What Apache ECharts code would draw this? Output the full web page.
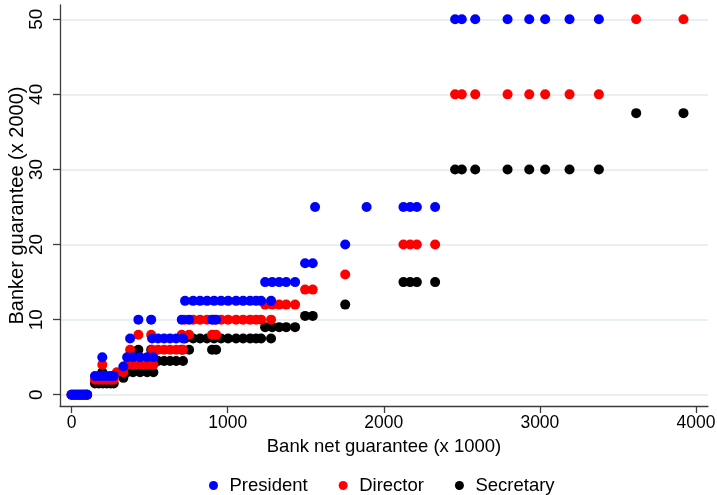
<!DOCTYPE html>
<html>
<head>
<meta charset="utf-8">
<script src="https://cdn.jsdelivr.net/npm/echarts@6/dist/echarts.min.js"></script>
<style>
  html, body { margin: 0; padding: 0; background: #fff; }
  #chart { width: 717px; height: 495px; }
</style>
</head>
<body>
<div id="chart"></div>
<script>
// Guarantee amounts by bank net guarantee, one array of [x, y] pairs per officer role
const presidentPts = [
  [0, 0], [15, 0], [30, 0], [45, 0], [60, 0], [75, 0], [90, 0], [100, 0],
  [150, 2.5], [175, 2.5], [200, 2.5], [225, 2.5], [250, 2.5], [270, 2.5],
  [197, 5], [356, 5], [394, 5], [439, 5], [484, 5], [524, 5],
  [332, 3.75],
  [375, 7.5], [516, 7.5], [554, 7.5], [593, 7.5], [631, 7.5], [670, 7.5], [714, 7.5],
  [428, 10], [510, 10], [706, 10], [753, 10], [900, 10], [926, 10],
  [727, 12.5], [779, 12.5], [823, 12.5], [868, 12.5], [913, 12.5], [958, 12.5], [1003, 12.5],
  [1054, 12.5], [1099, 12.5], [1144, 12.5], [1182, 12.5], [1214, 12.5], [1278, 12.5],
  [1240, 15], [1285, 15], [1330, 15], [1375, 15], [1432, 15],
  [1496, 17.5], [1545, 17.5],
  [1560, 25],
  [1753, 20],
  [1890, 25],
  [2126, 25], [2169, 25], [2212, 25], [2329, 25],
  [2457, 50], [2500, 50], [2586, 50], [2793, 50], [2932, 50], [3034, 50], [3190, 50], [3378, 50]
];

const directorPts = [
  [0, 0], [15, 0], [30, 0], [45, 0], [60, 0], [75, 0], [90, 0], [100, 0],
  [150, 2], [175, 2], [200, 2], [225, 2], [250, 2], [270, 2],
  [197, 4], [356, 4], [394, 4], [439, 4], [484, 4], [524, 4],
  [290, 3], [332, 3],
  [375, 6], [516, 6], [554, 6], [593, 6], [631, 6], [670, 6], [714, 6],
  [428, 8], [510, 8], [706, 8], [753, 8], [900, 8], [926, 8],
  [727, 10], [779, 10], [823, 10], [868, 10], [913, 10], [958, 10], [1003, 10],
  [1054, 10], [1099, 10], [1144, 10], [1182, 10], [1214, 10], [1278, 10],
  [1240, 12], [1285, 12], [1330, 12], [1375, 12], [1432, 12],
  [1496, 14], [1545, 14],
  [1753, 16],
  [2126, 20], [2169, 20], [2212, 20], [2329, 20],
  [2457, 40], [2500, 40], [2586, 40], [2793, 40], [2932, 40], [3034, 40], [3190, 40], [3378, 40],
  [3617, 50], [3920, 50]
];

const secretaryPts = [
  [0, 0], [15, 0], [30, 0], [45, 0], [60, 0], [75, 0], [90, 0], [100, 0],
  [150, 1.5], [175, 1.5], [200, 1.5], [225, 1.5], [250, 1.5], [270, 1.5],
  [197, 3], [356, 3], [394, 3], [439, 3], [484, 3], [524, 3],
  [332, 2.25],
  [375, 4.5], [516, 4.5], [554, 4.5], [593, 4.5], [631, 4.5], [670, 4.5], [714, 4.5],
  [428, 6], [510, 6], [706, 6], [753, 6], [900, 6], [926, 6],
  [727, 7.5], [779, 7.5], [823, 7.5], [868, 7.5], [913, 7.5], [958, 7.5], [1003, 7.5],
  [1054, 7.5], [1099, 7.5], [1144, 7.5], [1182, 7.5], [1214, 7.5], [1278, 7.5],
  [1240, 9], [1285, 9], [1330, 9], [1375, 9], [1432, 9],
  [1496, 10.5], [1545, 10.5],
  [1753, 12],
  [2126, 15], [2169, 15], [2212, 15], [2329, 15],
  [2457, 30], [2500, 30], [2586, 30], [2793, 30], [2932, 30], [3034, 30], [3190, 30], [3378, 30],
  [3617, 37.5], [3920, 37.5]
];

const xTicks = [0, 1000, 2000, 3000, 4000];
const yTicks = [0, 10, 20, 30, 40, 50];
const legendNames = ['President', 'Director', 'Secretary'];

const FONT = "'Liberation Sans', Arial, Helvetica, sans-serif";
const AXIS_COLOR = '#3c3c3c';

const chart = echarts.init(document.getElementById('chart'), null, { renderer: 'canvas' });

chart.setOption({
  animation: false,
  backgroundColor: '#ffffff',
  textStyle: { fontFamily: FONT, color: '#000' },
  grid: { left: 60, right: 9, top: 5, bottom: 89, containLabel: false, outerBoundsMode: 'none' },
  xAxis: {
    type: 'value',
    min: -74,
    max: 4077,
    name: 'Bank net guarantee (x 1000)',
    nameLocation: 'middle',
    nameGap: 31,
    nameMoveOverlap: false,
    nameTextStyle: { fontFamily: FONT, fontSize: 18.5, color: '#000' },
    axisLine: { show: true, onZero: false, lineStyle: { color: AXIS_COLOR, width: 1.3 } },
    axisTick: { show: true, inside: false, length: 7, customValues: xTicks, lineStyle: { color: AXIS_COLOR, width: 1.3 } },
    axisLabel: {
      customValues: xTicks, margin: 8, fontFamily: FONT, fontSize: 17.5, color: '#000',
      formatter: (v) => String(v)
    },
    splitLine: { show: false }
  },
  yAxis: {
    type: 'value',
    min: -1.5,
    max: 51.9,
    name: 'Banker guarantee (x 2000)',
    nameLocation: 'middle',
    nameRotate: 90,
    nameGap: 33,
    nameMoveOverlap: false,
    nameTextStyle: { fontFamily: FONT, fontSize: 20, color: '#000' },
    axisLine: { show: true, onZero: false, lineStyle: { color: AXIS_COLOR, width: 1.3 } },
    axisTick: { show: true, inside: false, length: 7, customValues: yTicks, lineStyle: { color: AXIS_COLOR, width: 1.3 } },
    axisLabel: {
      customValues: yTicks, rotate: 90, margin: 14, fontFamily: FONT, fontSize: 19, color: '#000',
      formatter: (v) => String(v)
    },
    splitLine: { show: true, lineStyle: { color: '#e8f0f2', width: 2 } }
  },
  legend: {
    data: legendNames,
    left: 204,
    top: 471,
    orient: 'horizontal',
    icon: 'circle',
    itemWidth: 22,
    itemHeight: 9,
    itemGap: 31,
    textStyle: { fontFamily: FONT, fontSize: 18.5, color: '#000' }
  },
  series: [
    {
      name: 'Secretary',
      type: 'scatter',
      data: secretaryPts,
      symbol: 'circle',
      symbolSize: 10,
      itemStyle: { color: '#000000', opacity: 1 }
    },
    {
      name: 'Director',
      type: 'scatter',
      data: directorPts,
      symbol: 'circle',
      symbolSize: 10,
      itemStyle: { color: '#ff0000', opacity: 1 }
    },
    {
      name: 'President',
      type: 'scatter',
      data: presidentPts,
      symbol: 'circle',
      symbolSize: 10,
      itemStyle: { color: '#0000ff', opacity: 1 }
    }
  ]
});
</script>
</body>
</html>
